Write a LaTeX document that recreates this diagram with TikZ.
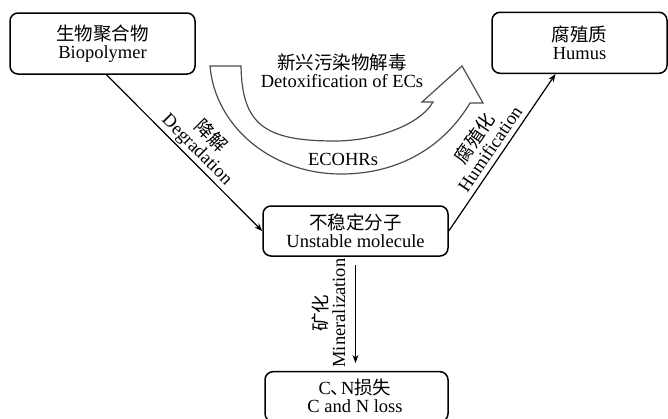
\documentclass[tikz,border=0pt]{standalone}
\usepackage{fontspec}
\setmainfont{Liberation Serif}
\newfontfamily\cjk{Noto Sans CJK SC}
\usetikzlibrary{arrows.meta}
\begin{document}
\begin{tikzpicture}[x=1pt,y=-1pt,
  lbl/.style={font=\fontsize{18.5}{18}\selectfont, align=center},
  box/.style={lbl, draw, line width=1.5pt, rounded corners=8pt, inner sep=0pt},
  conn/.style={line width=1.2pt, -{Stealth[length=8pt,width=6pt]}},
  bigarrow/.style={draw=black!70, line width=1.2pt, line join=miter}]
\useasboundingbox (0,0) rectangle (668,418);

\node[box, minimum width=185pt, minimum height=61pt] (bio) at (102.5,43.5) {{\cjk 生物聚合物}\\Biopolymer};
\node[box, minimum width=175pt, minimum height=61pt] (hum) at (579.5,42.8) {{\cjk 腐殖质}\\Humus};
\node[box, minimum width=185pt, minimum height=50pt] (uns) at (355.5,231) {{\cjk 不稳定分子}\\Unstable molecule};
\node[box, minimum width=183pt, minimum height=50pt] (cnl) at (356.5,396.7) {};
\node[lbl, inner sep=0pt] (cnltxt) at (355,396) {C{\cjk 、}\kern-0.45em N{\cjk 损失}\\C and N loss};

\draw[bigarrow] (210,66) -- (241,66)
  .. controls (242,125) and (265,141) .. (335,141)
  .. controls (375,141) and (420,125) .. (433,102)
  -- (422,102) -- (462,66) -- (483,103) -- (470,103)
  .. controls (445,145) and (401,174) .. (341,174)
  .. controls (271,174) and (215,126) .. (210,66) -- cycle;

\node[lbl, inner sep=0pt] (detox) at (342,71.2) {{\cjk 新兴污染物解毒}\\Detoxification of ECs};
\node[lbl, inner sep=0pt] (ecohrs) at (343,159.7) {ECOHRs};

\draw[conn] ([xshift=4pt]bio.south) -- (uns.west)
  node[lbl, sloped, above, pos=0.53, inner sep=1.5pt] (deglbl) {{\cjk 降解}\\Degradation};
\draw[conn] (uns.east) -- ([xshift=-24pt]hum.south)
  node[lbl, sloped, above, pos=0.48, inner sep=5pt] (humlbl) {{\cjk 腐殖化}\\Humification};
\draw[conn, shorten <=8pt, shorten >=8pt] (uns.south) -- (uns.south |- cnl.north);
\node[lbl, rotate=90, anchor=south, inner sep=1pt] (minlbl) at (346.5,313) {{\cjk 矿化}\\Mineralization};
\end{tikzpicture}
\end{document}
